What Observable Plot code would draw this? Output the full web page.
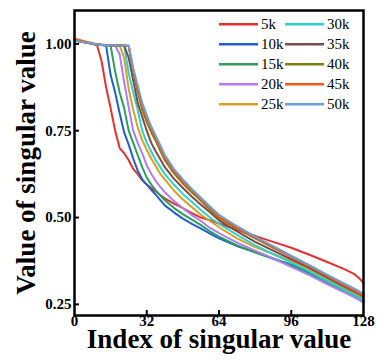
<!DOCTYPE html>
<html><head><meta charset="utf-8">
<script src="https://cdn.jsdelivr.net/npm/d3@7"></script>
<script src="https://cdn.jsdelivr.net/npm/@observablehq/plot@0.6"></script>
<style>
body{margin:0;background:#fff}
#wrap{position:relative;width:387px;height:363px;overflow:hidden}
#wrap svg{display:block}
#legend{position:absolute;left:0;top:0}
</style>
</head><body><div id="wrap"></div>
<script>
// index of singular value (sample positions)
const grid = [0,4,8,10,12,14,16,18,20,22,24,26,28,30,32,34,36,38,40,44,48,52,56,60,64,72,80,88,96,104,112,120,124,126,128];
const v5k  = [1.012,1.005,1.0,0.995,0.95,0.875,0.815,0.75,0.70,0.685,0.665,0.64,0.625,0.607,0.595,0.585,0.575,0.565,0.555,0.54,0.527,0.513,0.50,0.492,0.483,0.465,0.447,0.43,0.413,0.393,0.372,0.35,0.337,0.326,0.312];
const v10k = [1.01,1.005,1.0,0.998,0.997,0.995,0.91,0.86,0.80,0.745,0.71,0.67,0.635,0.61,0.595,0.58,0.565,0.55,0.535,0.515,0.497,0.482,0.468,0.454,0.44,0.418,0.40,0.382,0.364,0.343,0.318,0.293,0.28,0.272,0.262];
const v15k = [1.01,1.005,1.0,0.998,0.997,0.996,0.995,0.92,0.86,0.815,0.75,0.715,0.68,0.645,0.615,0.595,0.578,0.563,0.55,0.528,0.51,0.494,0.478,0.46,0.445,0.42,0.40,0.381,0.362,0.338,0.312,0.287,0.275,0.267,0.258];
const v20k = [1.01,1.005,1.0,0.998,0.997,0.996,0.995,0.995,0.97,0.89,0.818,0.75,0.715,0.685,0.65,0.626,0.605,0.588,0.573,0.548,0.527,0.507,0.49,0.47,0.455,0.428,0.405,0.382,0.358,0.334,0.308,0.283,0.27,0.263,0.255];
const v25k = [1.012,1.006,1.0,0.998,0.997,0.996,0.995,0.995,0.995,0.96,0.87,0.81,0.76,0.722,0.695,0.67,0.648,0.626,0.61,0.578,0.552,0.53,0.508,0.49,0.472,0.44,0.415,0.395,0.375,0.35,0.323,0.296,0.283,0.276,0.268];
const v30k = [1.01,1.005,1.0,0.998,0.997,0.996,0.995,0.995,0.995,0.995,0.915,0.86,0.81,0.75,0.715,0.69,0.665,0.645,0.625,0.595,0.568,0.545,0.522,0.50,0.482,0.45,0.42,0.395,0.37,0.345,0.318,0.29,0.277,0.27,0.262];
const v35k = [1.01,1.005,1.0,0.998,0.997,0.996,0.995,0.995,0.995,0.995,0.96,0.895,0.83,0.79,0.75,0.715,0.69,0.668,0.645,0.612,0.585,0.56,0.537,0.515,0.492,0.46,0.43,0.405,0.38,0.355,0.327,0.3,0.287,0.28,0.272];
const v40k = [1.01,1.005,1.0,0.998,0.997,0.996,0.995,0.995,0.995,0.995,0.993,0.92,0.86,0.81,0.775,0.745,0.72,0.692,0.665,0.628,0.598,0.572,0.548,0.522,0.498,0.468,0.44,0.413,0.388,0.362,0.333,0.306,0.292,0.285,0.278];
const v45k = [1.015,1.008,1.002,0.999,0.998,0.997,0.996,0.995,0.995,0.995,0.994,0.925,0.87,0.82,0.785,0.755,0.728,0.70,0.672,0.634,0.603,0.577,0.553,0.527,0.502,0.47,0.442,0.414,0.387,0.36,0.331,0.303,0.29,0.282,0.275];
const v50k = [1.01,1.005,1.0,0.998,0.997,0.996,0.995,0.995,0.995,0.995,0.995,0.93,0.88,0.83,0.795,0.762,0.735,0.708,0.68,0.64,0.61,0.582,0.557,0.532,0.508,0.475,0.445,0.418,0.39,0.363,0.335,0.308,0.295,0.288,0.28];

const seriesNames = ["5k","10k","15k","20k","25k","30k","35k","40k","45k","50k"];
const seriesColors = ["#e5302f","#1f5fcf","#2e9e5b","#b07ee8","#d4a12a","#2ecfcf","#7b4a4a","#808010","#ee5a1a","#6a9fd8"];
const xTicks = [0,32,64,96,128];
const yTicks = [0.25,0.50,0.75,1.00];
const xTitle = "Index of singular value";
const yTitle = "Value of singular value";

const seriesValues = [v5k,v10k,v15k,v20k,v25k,v30k,v35k,v40k,v45k,v50k];
const rows = seriesNames.flatMap((name,i)=> grid.map((x,j)=>({name, x, y: seriesValues[i][j]})));

const W = 387, H = 363, mL = 74, mR = 24, mT = 10, mB = 48;
const innerW = W - mL - mR, innerH = H - mT - mB;
const serif = "'Liberation Serif','Times New Roman',serif";
const tickFont = {fontSize: 15, fontWeight: "bold", fontFamily: serif, fill: "black"};

const chart = Plot.plot({
  width: W, height: H, marginLeft: mL, marginRight: mR, marginTop: mT, marginBottom: mB,
  style: {fontFamily: serif, background: "white", color: "black"},
  x: {domain: [0,128], label: null, axis: null},
  y: {domain: [0.218, 1.096], label: null, axis: null},
  color: {domain: seriesNames, range: seriesColors},
  marks: [
    Plot.lineY(rows, {x: "x", y: "y", stroke: "name", strokeWidth: 2, curve: "linear"}),
    Plot.text(xTicks, {x: d => d, frameAnchor: "bottom", text: d => String(d), lineAnchor: "top", dy: 0, ...tickFont}),
    Plot.text(yTicks, {y: d => d, frameAnchor: "left", text: d => d.toFixed(2), textAnchor: "end", dx: -3, ...tickFont}),
    Plot.ruleX(xTicks.slice(1, -1), {x: d => d, insetTop: innerH - 5, stroke: "black", strokeWidth: 2}),
    Plot.ruleY(yTicks, {y: d => d, insetRight: innerW - 5, stroke: "black", strokeWidth: 2}),
    Plot.frame({stroke: "black", strokeWidth: 2.5}),
    Plot.text([xTitle], {frameAnchor: "bottom", text: d => d, dy: 24, textAnchor: "middle", lineAnchor: "middle", fontSize: 27, fontWeight: "bold", fontFamily: serif, fill: "black"}),
    Plot.text([yTitle], {frameAnchor: "left", text: d => d, dx: -48, rotate: -90, textAnchor: "middle", lineAnchor: "middle", fontSize: 27, fontWeight: "bold", fontFamily: serif, fill: "black"})
  ]
});
document.getElementById("wrap").appendChild(chart);

// legend inside the top-right of the frame, two columns of five
const legend = d3.select("#wrap").append("svg").attr("id","legend").attr("width",W).attr("height",H)
  .style("font-family", serif).style("font-size","15px");
const colX = [219, 285], lineLen = 39, rowY0 = 24.3, rowStep = 20;
seriesNames.forEach((name, i) => {
  const c = Math.floor(i / 5), r = i % 5;
  const g = legend.append("g").attr("transform", `translate(${colX[c]},${rowY0 + r*rowStep})`);
  g.append("line").attr("x1",0).attr("x2",lineLen).attr("y1",0).attr("y2",0)
    .attr("stroke", seriesColors[i]).attr("stroke-width",2.5);
  g.append("text").attr("x", lineLen + 3).attr("y", 0).attr("dy","0.33em").attr("fill","black").text(name);
});
</script>
</body></html>
